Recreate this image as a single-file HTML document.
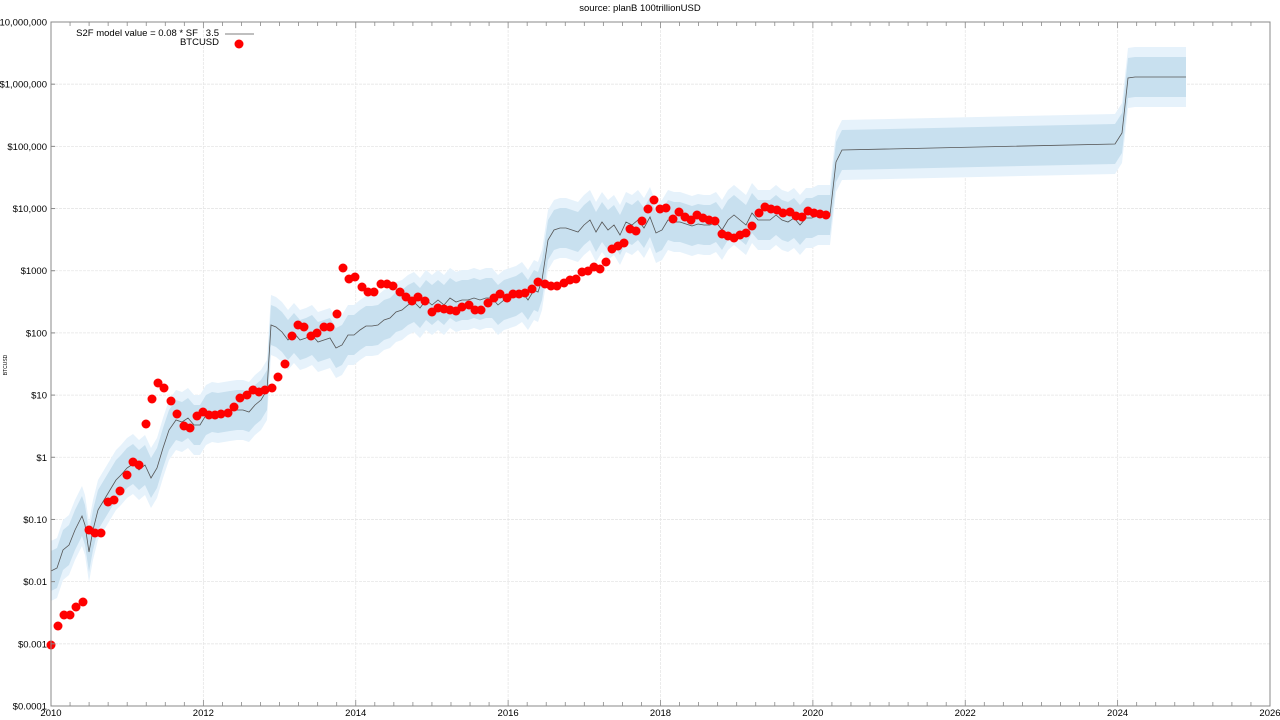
<!DOCTYPE html>
<html><head><meta charset="utf-8"><style>
html,body{margin:0;padding:0;background:#fff}
svg{display:block;font-family:"Liberation Sans",sans-serif}
</style></head><body>
<svg id="s" width="1280" height="720" xmlns="http://www.w3.org/2000/svg">
<rect width="1280" height="720" fill="#fff"/>
<g id="grid"></g>
<g id="bands"></g>
<polyline id="line" fill="none" stroke="#555" stroke-width="0.8"/>
<g id="dots" fill="#f00"></g>
<g id="axes"></g>
<text x="640" y="11" font-size="9.5" text-anchor="middle">source: planB 100trillionUSD</text>
<text x="219" y="36" font-size="9.5" text-anchor="end" xml:space="preserve">S2F model value = 0.08 * SF   3.5</text>
<line x1="225" y1="34" x2="254" y2="34" stroke="#555" stroke-width="0.8"/>
<text x="219" y="45" font-size="9.5" text-anchor="end">BTCUSD</text>
<circle cx="239" cy="44" r="4.5" fill="#f00"/>
<text transform="translate(7,365) rotate(-90)" font-size="5" text-anchor="middle">BTCUSD</text>
</svg>
<script>
const ns="http://www.w3.org/2000/svg";
function el(p,t,a,txt){const e=document.createElementNS(ns,t);for(const k in a)e.setAttribute(k,a[k]);if(txt!==undefined)e.textContent=txt;p.appendChild(e);return e;}
const L=51,R=1270,T=22,B=706,dec=(B-T)/11;
const grid=document.getElementById('grid'),axes=document.getElementById('axes');
const ylab=["$0.0001","$0.001","$0.01","$0.10","$1","$10","$100","$1000","$10,000","$100,000","$1,000,000","$10,000,000"];
for(let i=0;i<12;i++){const y=B-i*dec;
 if(i>0&&i<11)el(grid,'line',{x1:L,x2:R,y1:y,y2:y,stroke:'#e6e6e6','stroke-width':0.8,'stroke-dasharray':'3,1'});
 el(axes,'text',{x:L-4,y:y+3.5,'font-size':9.5,'text-anchor':'end'},ylab[i]);
 el(axes,'line',{x1:L,x2:L+4,y1:y,y2:y,stroke:'#888'});}
const yw=(R-L)/16;
for(let q=0;q<=64;q++){const x=L+q*yw/4;el(axes,'line',{x1:x,x2:x,y1:B,y2:B-(q%8==0?6:4),stroke:'#888','stroke-width':0.8});
 el(axes,'line',{x1:x,x2:x,y1:T,y2:T+(q%8==0?6:4),stroke:'#888','stroke-width':0.8});}
for(let k=0;k<=8;k++){const x=L+k*2*yw;
 if(k>0&&k<8)el(grid,'line',{x1:x,x2:x,y1:T,y2:B,stroke:'#e6e6e6','stroke-width':0.8,'stroke-dasharray':'3,1'});
 el(axes,'text',{x:x,y:716,'font-size':9.5,'text-anchor':'middle'},String(2010+2*k));}
el(axes,'rect',{x:L,y:T,width:R-L,height:B-T,fill:'none',stroke:'#888','stroke-width':1});
const M=[[51,571],[57,568],[63,550],[69,545],[75,530],[82,516],[85,525],[89,552],[93,530],[98,510],[104,500],[110,490],[116,480],[121,475],[127,468],[133,464],[139,470],[145,465],[151,478],[157,468],[163,448],[169,430],[176,420],[182,422],[188,418],[194,425],[200,425],[206,415],[212,412],[218,413],[224,412],[230,411],[237,410],[243,410],[249,412],[255,405],[261,400],[267,390],[271,325],[276,327],[282,332],[288,340],[294,333],[300,340],[306,338],[312,335],[318,342],[324,340],[330,338],[336,348],[342,345],[348,335],[354,335],[360,330],[366,326],[372,326],[378,325],[384,320],[390,318],[396,312],[402,310],[408,305],[414,302],[420,308],[426,300],[432,305],[438,300],[444,305],[450,298],[456,302],[462,300],[468,300],[474,298],[480,300],[486,298],[492,298],[498,305],[504,300],[510,298],[516,296],[522,292],[528,300],[534,290],[538,292],[542,280],[548,240],[554,230],[560,228],[566,228],[572,230],[578,232],[584,225],[590,220],[596,232],[602,222],[608,230],[614,225],[620,235],[626,222],[632,225],[638,220],[644,228],[650,217],[656,233],[662,230],[668,220],[674,222],[680,222],[686,224],[692,226],[698,224],[704,225],[710,225],[716,222],[722,230],[728,220],[734,215],[740,220],[746,225],[752,213],[758,220],[764,220],[770,220],[776,215],[782,220],[788,222],[794,218],[800,225],[806,218],[812,218],[818,215],[824,215],[830,215],[836,162],[842,150],[1115,144],[1122,133],[1128,78],[1135,77],[1186,77]];
const bands=document.getElementById('bands');
function band(o,c){const up=M.map(p=>p[0]+','+(p[1]-o)).join(' ');const dn=M.slice().reverse().map(p=>p[0]+','+(p[1]+o)).join(' ');el(bands,'polygon',{points:up+' '+dn,fill:c});}
band(30,'#e6f2fb');band(20,'#c8e0ef');
document.getElementById('line').setAttribute('points',M.map(p=>p.join(',')).join(' '));
const D=[[51,645],[58,626],[64,615],[70,615],[76,607],[83,602],[89,530],[95,533],[101,533],[108,502],[114,500],[120,491],[127,475],[133,462],[139,465],[146,424],[152,399],[158,383],[164,388],[171,401],[177,414],[184,426],[190,428],[197,416],[203,412],[209,415],[215,415],[221,414],[228,413],[234,407],[240,398],[247,395],[253,390],[259,392],[265,390],[272,388],[278,377],[285,364],[292,336],[298,325],[304,327],[311,336],[317,333],[324,327],[330,327],[337,314],[343,268],[349,279],[355,277],[362,287],[368,292],[374,292],[381,284],[387,284],[393,286],[400,292],[406,297],[412,301],[418,297],[425,301],[432,312],[438,308],[444,309],[450,310],[456,311],[462,307],[469,305],[475,310],[481,310],[488,303],[494,298],[500,294],[507,298],[513,294],[519,294],[525,293],[532,289],[538,282],[545,284],[551,286],[557,286],[564,283],[570,280],[576,279],[582,272],[588,271],[594,267],[600,269],[606,262],[612,249],[618,246],[624,243],[630,229],[636,231],[642,221],[648,209],[654,200],[660,209],[666,208],[673,219],[679,212],[685,217],[691,220],[697,215],[703,218],[709,220],[715,221],[722,234],[728,236],[734,238],[740,235],[746,233],[752,226],[759,213],[765,207],[771,209],[777,210],[783,213],[790,212],[796,216],[802,217],[808,211],[814,213],[820,214],[826,215]];
const dots=document.getElementById('dots');
D.forEach(p=>el(dots,'circle',{cx:p[0],cy:p[1],r:4.5}));
</script>
</body></html>
